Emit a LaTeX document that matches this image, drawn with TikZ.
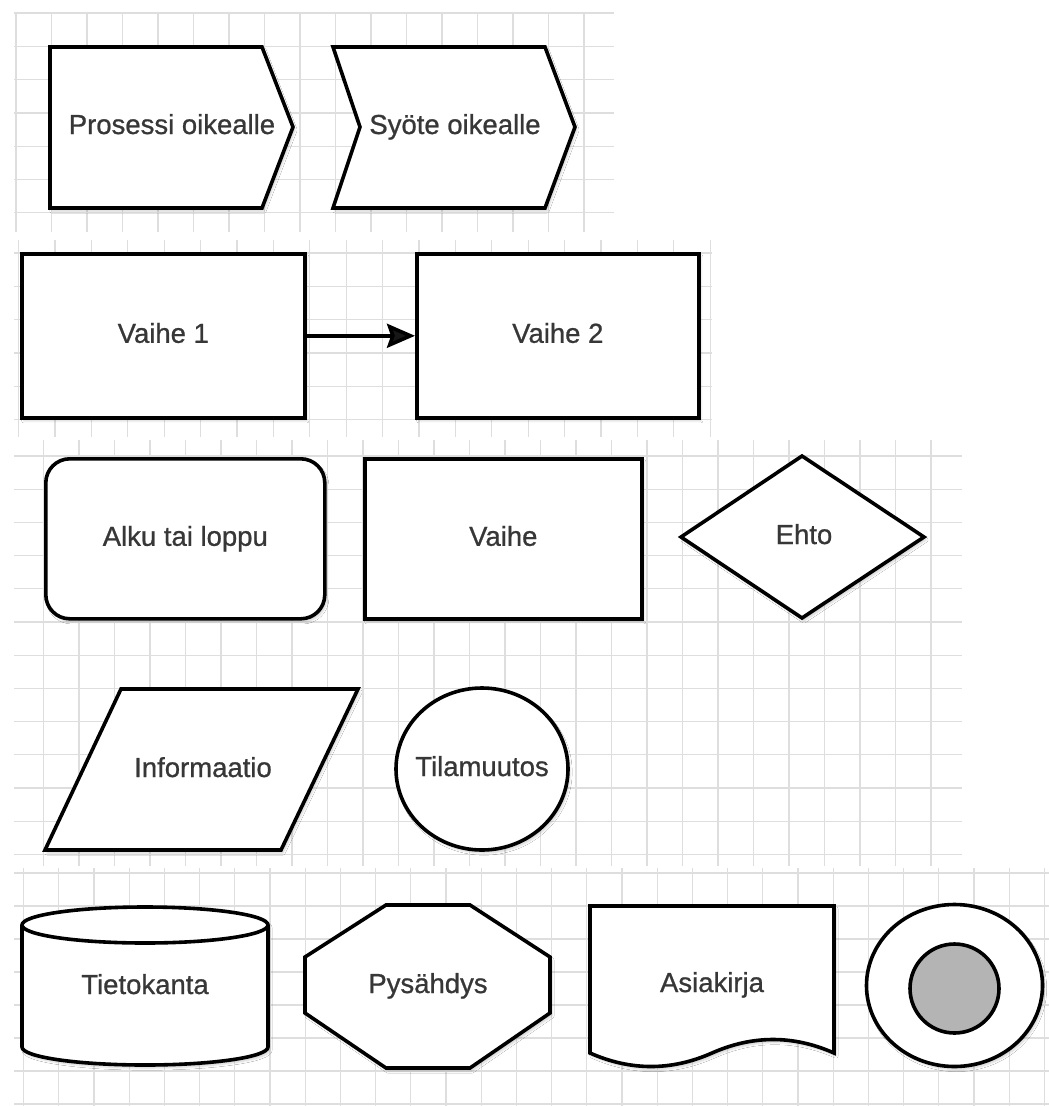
\documentclass[tikz,border=0pt]{standalone}
\usepackage{fontspec}
\setmainfont{Liberation Sans}[FakeBold=0.8]
\usetikzlibrary{arrows.meta,shapes.geometric,shadows.blur}
\definecolor{gridc}{RGB}{222,222,222}
\definecolor{txtc}{RGB}{55,55,55}
\definecolor{innerc}{RGB}{180,180,180}
\tikzset{
  shp/.style={draw=black, line width=3.6pt, fill=white, line join=miter,
    blur shadow={shadow xshift=2pt, shadow yshift=-3pt, shadow blur steps=6, shadow opacity=18}},
  lbl/.style={text=txtc, font=\fontsize{27.5}{32}\selectfont, inner sep=0pt, text height=20pt, text depth=6pt},
  gridl/.style={draw=gridc, line width=1.2pt},
  conn/.style={line width=3.6pt, -{Stealth[length=28pt,width=24pt,inset=4pt]}}
}
\newcommand{\mygrid}[8]{%
  % #1 xmin #2 xmax #3 ymin #4 ymax #5 x0 #6 dx #7 y0 #8 dy
  \foreach \k in {0,...,40}{%
    \pgfmathsetmacro{\gx}{#5+\k*#6}%
    \ifdim\gx pt<#2pt \draw[gridl] (\gx,#3) -- (\gx,#4);\fi}%
  \foreach \k in {0,...,20}{%
    \pgfmathsetmacro{\gy}{#7+\k*#8}%
    \ifdim\gy pt<#4pt \draw[gridl] (#1,\gy) -- (#2,\gy);\fi}%
}
\begin{document}
\begin{tikzpicture}[x=1pt,y=-1pt]
\useasboundingbox (0,0) rectangle (1049,1106);
\fill[white] (0,0) rectangle (1049,1106);
% grids
\mygrid{14}{614}{13}{232}{16}{35.5}{13}{33.3}
\mygrid{14}{712}{240}{437}{18.5}{36.4}{253}{33.3}
\mygrid{14}{962}{440}{866}{43.5}{35.5}{456}{33.2}
\mygrid{14}{1049}{868}{1106}{23.5}{35.2}{873}{33}
% panel 1
\draw[shp] (50,47) -- (262,47) -- (293,127) -- (262,208) -- (50,208) -- cycle;
\node[lbl] (pr) at (172,127) {Prosessi oikealle};
\draw[shp] (333,47) -- (545,47) -- (575,127) -- (545,208) -- (333,208) -- (360,127) -- cycle;
\node[lbl] (sy) at (455,127) {Syöte oikealle};
% panel 2
\node[shp, lbl, minimum width=283pt, minimum height=164pt, anchor=north west] (v1) at (20,252) {Vaihe 1};
\node[shp, lbl, minimum width=282pt, minimum height=164pt, anchor=north west] (v2) at (415,252) {Vaihe 2};
\draw[conn] (v1.east) -- (v2.west);
% panel 3
\node[shp, lbl, rounded corners=24pt, minimum width=279pt, minimum height=160pt, anchor=north west] (alku) at (44,457) {Alku tai loppu};
\node[shp, lbl, minimum width=277pt, minimum height=160pt, anchor=north west] (vaihe) at (363,457) {Vaihe};
\draw[shp] (681,537) -- (802,456) -- (924,537) -- (802,618) -- cycle;
\node[lbl] (ehto) at (804,537) {Ehto};
\draw[shp] (121,689) -- (358,689) -- (281,850) -- (45,850) -- cycle;
\node[lbl] (info) at (203,770) {Informaatio};
\draw[shp] (482,769) ellipse [x radius=86, y radius=81];
\node[lbl] (tila) at (482,769) {Tilamuutos};
% panel 4
\draw[shp] (22,925) -- (22,1047) arc[start angle=180, end angle=0, x radius=123, y radius=18] -- (268,925) arc[start angle=0, end angle=-180, x radius=123, y radius=18] -- cycle;
\draw[draw=black, line width=3.6pt] (22,925) arc[start angle=180, end angle=0, x radius=123, y radius=18];
\node[lbl] (tk) at (145,987) {Tietokanta};
\draw[shp] (386,905) -- (470,905) -- (550,957) -- (550,1013) -- (470,1068) -- (386,1068) -- (305,1013) -- (305,957) -- cycle;
\node[lbl] (pys) at (428,986) {Pysähdys};
\draw[shp] (590,906) -- (834,906) -- (834,1053)
  .. controls (793.3,1035) and (752.7,1035) .. (712,1053)
  .. controls (671.3,1071) and (630.7,1071) .. (590,1053) -- cycle;
\node[lbl] (ak) at (712,985) {Asiakirja};
\draw[shp] (954.5,985.5) ellipse [x radius=88, y radius=81];
\draw[draw=black, line width=3.6pt, fill=innerc] (954.5,988.5) ellipse [x radius=44.5, y radius=44.5];
\end{tikzpicture}
\end{document}
